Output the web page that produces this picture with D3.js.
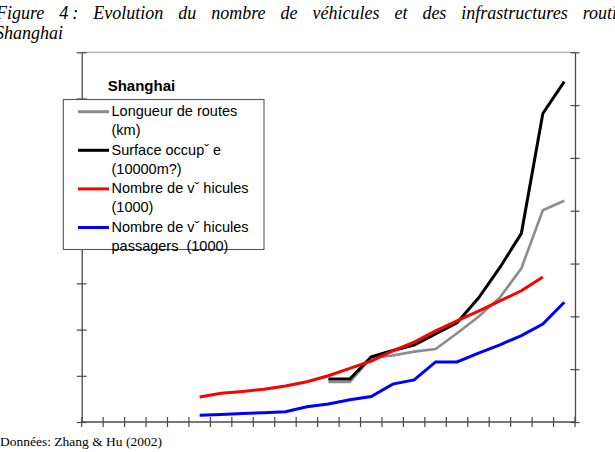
<!DOCTYPE html>
<html>
<head>
<meta charset="utf-8">
<script src="https://cdn.jsdelivr.net/npm/d3@7"></script>
<style>
  body { margin: 0; background: #fff; }
  svg { display: block; }
</style>
</head>
<body>
<div id="canvas"></div>
<script>
// years on the category axis (no labels shown in the original)
const years = d3.range(1978, 2001);

// vehicles, read on the left axis (1000 vehicles)
const vehYears = d3.range(1983, 2000);
const vehicles = [54, 62, 66, 71, 78, 87, 100, 116, 132, 154, 173, 197, 219, 240, 262, 284, 314];
const paxYears = d3.range(1983, 2001);
const passengers = [14.5, 16, 18.5, 20, 22, 33, 39, 48, 55, 82, 91, 130, 130, 149, 167, 187, 212, 259];

// infrastructure, read on the right axis
const roadYears = d3.range(1989, 2001);
const roadLength = [379, 379, 606, 630, 666, 691, 840, 997, 1179, 1455, 2004, 2095];
const roadSurface = [407, 407, 618, 677, 729, 833, 940, 1174, 1463, 1786, 2921, 3222];

const leftTicks = d3.range(0, 801, 100);
const rightTicks = d3.range(0, 3501, 500);

const legendLabels = [
  ['Longueur de routes', '(km)'],
  ['Surface occupˇ e', '(10000m?)'],
  ['Nombre de vˇ hicules', '(1000)'],
  ['Nombre de vˇ hicules', 'passagers  (1000)']
];
const colors = ['#8c8c8c', '#000000', '#ff0000', '#0000ff'];

const W = 615, H = 452;
const PLOT = { LEFT: 81.7, RIGHT: 575, TOP: 52.3, BOTTOM: 422 };
const AXIS = '#4a4a4a';

const svg = d3.select('#canvas').append('svg')
  .attr('width', W)
  .attr('height', H);

// title, justified over the full width like the source document
const titleWords = ['Figure', '4', ':', 'Evolution', 'du', 'nombre', 'de', 'véhicules', 'et', 'des', 'infrastructures', 'routi'];
const title = svg.append('g')
  .style('font-family', '"Liberation Serif", "Times New Roman", serif')
  .style('font-style', 'italic')
  .style('font-size', '18px');
const wordNodes = title.selectAll('text')
  .data(titleWords)
  .enter().append('text')
    .attr('y', 19)
    .text(d => d);
const widths = wordNodes.nodes().map(n => n.getComputedTextLength());
const tLeft = -4, tRight = 617, smallGap = 4;
const gap = (tRight - tLeft - d3.sum(widths) - smallGap) / (titleWords.length - 2);
let cx = tLeft;
wordNodes.each(function(d, i) {
  d3.select(this).attr('x', cx);
  cx += widths[i] + (i === 1 ? smallGap : gap);
});
title.append('text')
  .attr('x', -5)
  .attr('y', 38.5)
  .text('Shanghai');

const x = d3.scaleBand()
  .domain(years)
  .range([PLOT.LEFT, PLOT.RIGHT])
  .padding(0);

const yL = d3.scaleLinear()
  .domain([0, 800])
  .range([PLOT.BOTTOM, PLOT.TOP]);

const yR = d3.scaleLinear()
  .domain([0, 3500])
  .range([PLOT.BOTTOM, PLOT.TOP]);

// top border
svg.append('line')
  .attr('x1', PLOT.LEFT).attr('x2', PLOT.RIGHT)
  .attr('y1', PLOT.TOP).attr('y2', PLOT.TOP)
  .attr('stroke', '#a8a8a8')
  .attr('stroke-width', 1.2);

// left axis
const gL = svg.append('g')
  .attr('transform', `translate(${PLOT.LEFT},0)`)
  .call(d3.axisLeft(yL).tickValues(leftTicks).tickFormat('').tickSizeOuter(0).tickSizeInner(5));
gL.selectAll('.tick line').attr('x2', -5).attr('x1', 5);

// right axis
const gR = svg.append('g')
  .attr('transform', `translate(${PLOT.RIGHT},0)`)
  .call(d3.axisRight(yR).tickValues(rightTicks).tickFormat('').tickSizeOuter(0).tickSizeInner(4.5));
gR.selectAll('.tick line').attr('x1', -4.5);

// bottom axis, ticks between categories
const edges = years.map(d => x(d)).concat([PLOT.RIGHT]);
const gB = svg.append('g');
gB.append('line')
  .attr('x1', PLOT.LEFT).attr('x2', PLOT.RIGHT)
  .attr('y1', PLOT.BOTTOM).attr('y2', PLOT.BOTTOM)
  .attr('stroke', AXIS).attr('stroke-width', 1.3);
gB.selectAll('line.tk')
  .data(edges)
  .enter().append('line')
    .attr('class', 'tk')
    .attr('x1', d => d).attr('x2', d => d)
    .attr('y1', PLOT.BOTTOM - 5).attr('y2', PLOT.BOTTOM + 5)
    .attr('stroke', AXIS).attr('stroke-width', 1.2);

[gL, gR].forEach(g => {
  g.select('.domain').attr('stroke', AXIS).attr('stroke-width', 1.3);
  g.selectAll('.tick line').attr('stroke', AXIS).attr('stroke-width', 1.2);
});

const cxOf = d => x(d) + x.bandwidth() / 2;
const series = [
  { yrs: roadYears, vals: roadLength, y: yR, w: 2.6 },
  { yrs: roadYears, vals: roadSurface, y: yR, w: 3 },
  { yrs: vehYears, vals: vehicles, y: yL, w: 3 },
  { yrs: paxYears, vals: passengers, y: yL, w: 3 }
];

series.forEach((s, i) => {
  const line = d3.line()
    .x((d, j) => cxOf(s.yrs[j]))
    .y(d => s.y(d));
  svg.append('path')
    .datum(s.vals)
    .attr('d', line)
    .attr('fill', 'none')
    .attr('stroke', colors[i])
    .attr('stroke-width', s.w)
    .attr('stroke-linejoin', 'miter');
});

// legend
const lg = svg.append('g')
  .style('font-family', '"Liberation Sans", Arial, sans-serif');
lg.append('text')
  .attr('x', 107.7).attr('y', 90.5)
  .style('font-size', '15px')
  .style('font-weight', 'bold')
  .text('Shanghai');
lg.append('rect')
  .attr('x', 63.3).attr('y', 99.5)
  .attr('width', 200.7).attr('height', 150)
  .attr('fill', '#fff')
  .attr('stroke', '#555')
  .attr('stroke-width', 1.1);
legendLabels.forEach((lab, i) => {
  const base = 116 + i * 38.6;
  lg.append('line')
    .attr('x1', 78).attr('x2', 109)
    .attr('y1', base - 4.3).attr('y2', base - 4.3)
    .attr('stroke', colors[i])
    .attr('stroke-width', 3);
  lab.forEach((t, k) => {
    lg.append('text')
      .attr('x', 111.5).attr('y', base + k * 19.1)
      .style('font-size', '14.5px')
      .style('white-space', 'pre')
      .attr('xml:space', 'preserve')
      .text(t);
  });
});

svg.append('text')
  .attr('x', 0).attr('y', 446)
  .style('font-family', '"Liberation Serif", "Times New Roman", serif')
  .style('font-size', '13.5px')
  .text('Données: Zhang & Hu (2002)');
</script>
</body>
</html>
